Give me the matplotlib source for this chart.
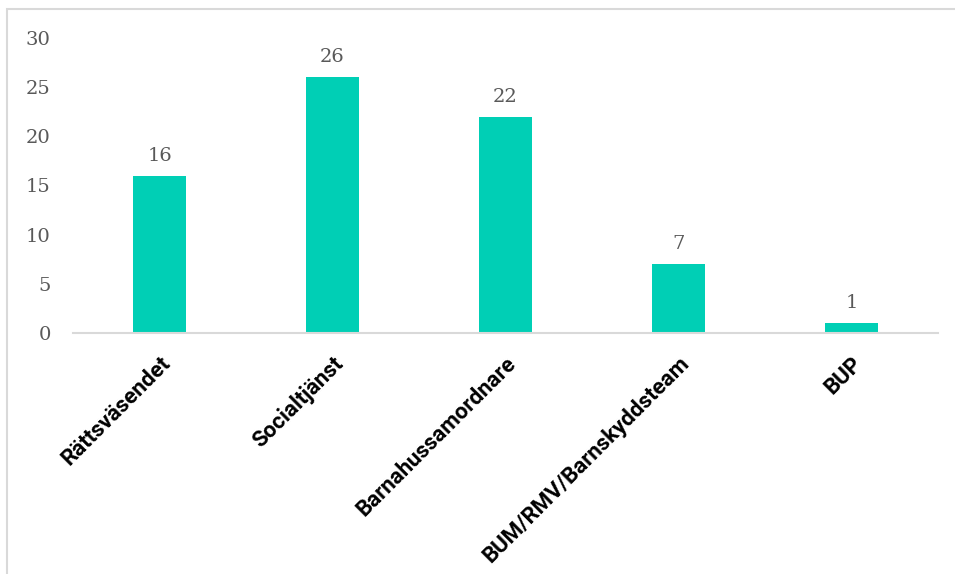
import matplotlib
matplotlib.use("Agg")
import matplotlib.pyplot as plt
from matplotlib.patches import Rectangle

# data
categories = ["Rättsväsendet", "Socialtjänst", "Barnahussamordnare",
              "BUM/RMV/Barnskyddsteam", "BUP"]
values = [16, 26, 22, 7, 1]
yticks = [0, 5, 10, 15, 20, 25, 30]

teal = "#00CFB5"
grey_txt = "#595959"
grey_line = "#D9D9D9"

fig = plt.figure(figsize=(9.55, 5.74), dpi=100)

# outer chart frame (cropped at right and bottom)
fig.patches.append(Rectangle((7 / 955, -0.1), 1.2, 1 - 9 / 574 + 0.1,
                             transform=fig.transFigure, fill=False,
                             edgecolor=grey_line, linewidth=1.5))

ax = fig.add_axes([73 / 955, 1 - 333 / 574, (938 - 73) / 955, (333 - 38) / 574])

x = range(len(categories))
bars = ax.bar(x, values, width=0.31, color=teal, zorder=2)

for b, v in zip(bars, values):
    ax.annotate(str(v), (b.get_x() + b.get_width() / 2, v),
                xytext=(0, 8), textcoords="offset points",
                ha="center", va="bottom", fontsize=14,
                family="DejaVu Serif", color=grey_txt)

ax.set_xlim(-0.5, len(categories) - 0.5)
ax.set_ylim(0, 30)
ax.set_yticks(yticks)
ax.set_yticklabels([str(t) for t in yticks], family="DejaVu Serif",
                   fontsize=14, color=grey_txt)
ax.tick_params(axis="y", length=0, pad=16)
ax.tick_params(axis="x", length=0, pad=14)

ax.set_xticks(list(x))
ax.set_xticklabels(categories, rotation=45, ha="right",
                   rotation_mode="anchor", family="Roboto",
                   fontweight="bold", fontsize=16, color="black")

for s in ["top", "right", "left"]:
    ax.spines[s].set_visible(False)
ax.spines["bottom"].set_color(grey_line)
ax.spines["bottom"].set_linewidth(1.5)

fig.savefig("out.png", dpi=100)
